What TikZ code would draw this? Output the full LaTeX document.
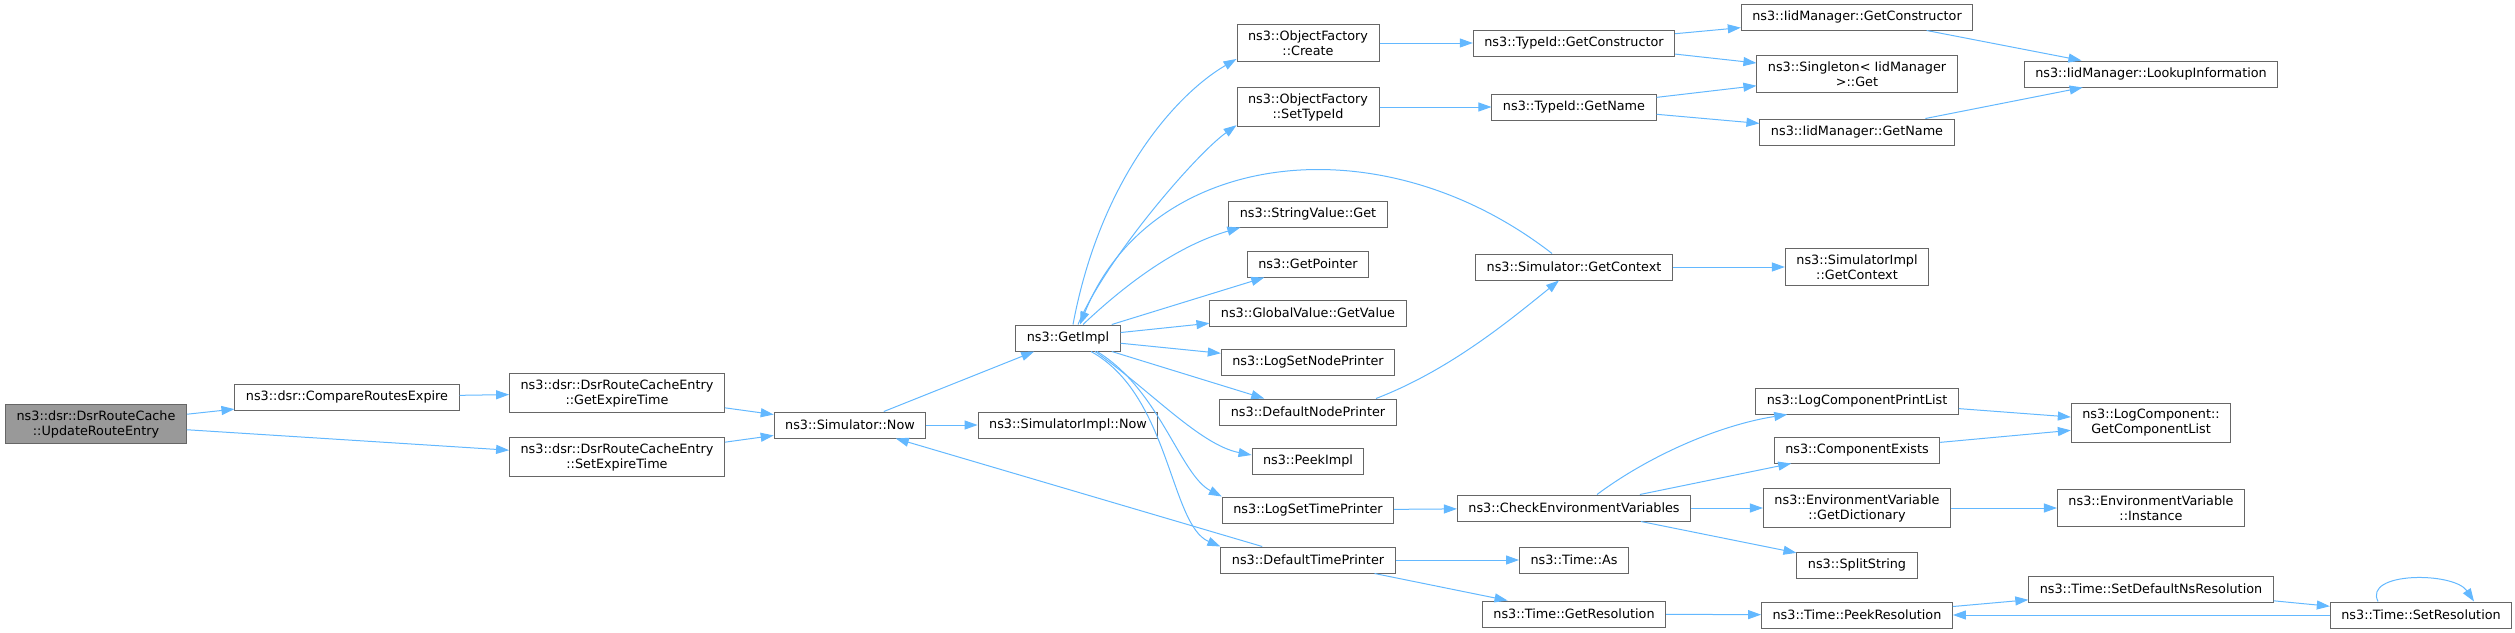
\documentclass[tikz,border=0pt]{standalone}
\usepackage{fontspec}
\setmainfont{DejaVu Sans}
\usetikzlibrary{arrows.meta}
\definecolor{edgeblue}{HTML}{63B8FF}
\definecolor{boxgray}{HTML}{666666}
\definecolor{rootgray}{HTML}{999999}
\tikzset{font=\fontsize{12.8pt}{15pt}\selectfont}

\begin{document}
\begin{tikzpicture}[x=1pt,y=-1pt,
        fn/.style={draw=boxgray,fill=white,line width=1pt,align=center,
            inner xsep=11pt,inner ysep=6pt,minimum height=26pt},
        root/.style={fn,fill=rootgray},
        call/.style={draw=edgeblue,line width=1pt,-{Triangle[length=13pt,width=9pt]}}]
    \useasboundingbox (0,0) rectangle (2515,632);

    \node[root] (upd) at (96,424) {ns3::dsr::DsrRouteCache\\::UpdateRouteEntry};
    \node[fn] (cmp) at (347,397) {ns3::dsr::CompareRoutesExpire};
    \node[fn] (getexp) at (617,393) {ns3::dsr::DsrRouteCacheEntry\\::GetExpireTime};
    \node[fn] (setexp) at (617,457) {ns3::dsr::DsrRouteCacheEntry\\::SetExpireTime};
    \node[fn] (now) at (850,425) {ns3::Simulator::Now};
    \node[fn] (implnow) at (1068,425) {ns3::SimulatorImpl::Now};
    \node[fn] (getimpl) at (1068,338) {ns3::GetImpl};

    \node[fn] (create) at (1308,43) {ns3::ObjectFactory\\::Create};
    \node[fn] (settid) at (1308,107) {ns3::ObjectFactory\\::SetTypeId};
    \node[fn] (strget) at (1308,214) {ns3::StringValue::Get};
    \node[fn] (getptr) at (1308,264) {ns3::GetPointer};
    \node[fn] (gvget) at (1308,313) {ns3::GlobalValue::GetValue};
    \node[fn] (lsnp) at (1308,362) {ns3::LogSetNodePrinter};
    \node[fn] (dnp) at (1308,412) {ns3::DefaultNodePrinter};
    \node[fn] (peek) at (1308,461) {ns3::PeekImpl};
    \node[fn] (lstp) at (1308,510) {ns3::LogSetTimePrinter};
    \node[fn] (dtp) at (1308,560) {ns3::DefaultTimePrinter};

    \node[fn] (tidctor) at (1574,43) {ns3::TypeId::GetConstructor};
    \node[fn] (tidname) at (1574,107) {ns3::TypeId::GetName};
    \node[fn] (ctx) at (1574,267) {ns3::Simulator::GetContext};
    \node[fn] (check) at (1574,508) {ns3::CheckEnvironmentVariables};
    \node[fn] (tas) at (1574,560) {ns3::Time::As};
    \node[fn] (getres) at (1574,614) {ns3::Time::GetResolution};

    \node[fn] (iidctor) at (1857,17) {ns3::IidManager::GetConstructor};
    \node[fn] (single) at (1857,74) {ns3::Singleton< IidManager\\ >::Get};
    \node[fn] (iidname) at (1857,132) {ns3::IidManager::GetName};
    \node[fn] (implctx) at (1857,267) {ns3::SimulatorImpl\\::GetContext};
    \node[fn] (lcpl) at (1857,401) {ns3::LogComponentPrintList};
    \node[fn] (cexists) at (1857,450) {ns3::ComponentExists};
    \node[fn] (dict) at (1857,508) {ns3::EnvironmentVariable\\::GetDictionary};
    \node[fn] (split) at (1857,565) {ns3::SplitString};
    \node[fn] (peekres) at (1857,615) {ns3::Time::PeekResolution};

    \node[fn] (lookup) at (2151,74) {ns3::IidManager::LookupInformation};
    \node[fn] (complist) at (2151,423) {ns3::LogComponent::\\GetComponentList};
    \node[fn] (inst) at (2151,508) {ns3::EnvironmentVariable\\::Instance};
    \node[fn] (setdef) at (2151,589) {ns3::Time::SetDefaultNsResolution};
    \node[fn] (setres) at (2421,615) {ns3::Time::SetResolution};

    \draw[call] (upd) -- (cmp);
    \draw[call] (upd) -- (setexp);
    \draw[call] (cmp) -- (getexp);
    \draw[call] (getexp) -- (now);
    \draw[call] (setexp) -- (now);
    \draw[call] (now) -- (getimpl);
    \draw[call] (now) -- (implnow);
    \draw[call] (dtp) -- (now);

    \draw[call] ([xshift=5pt]getimpl.north) .. controls (1100,180) and (1175,95) .. ([yshift=3pt]create.south west);
    \draw[call] ([xshift=10pt]getimpl.north) .. controls (1105,260) and (1195,155) .. ([yshift=2pt]settid.south west);
    \draw[call] ([xshift=-22pt]ctx.north) .. controls (1380,120) and (1150,150) .. ([xshift=12pt]getimpl.north);
    \draw[call] ([xshift=15pt]getimpl.north) .. controls (1130,280) and (1180,245) .. ([xshift=12pt]strget.south west);
    \draw[call] (getimpl) -- (getptr);
    \draw[call] (getimpl) -- (gvget);
    \draw[call] (getimpl) -- (lsnp);
    \draw[call] (getimpl) -- (dnp);
    \draw[call] ([xshift=27pt]getimpl.south) .. controls (1150,390) and (1200,445) .. ([yshift=6pt]peek.west);
    \draw[call] ([xshift=29pt]getimpl.south) .. controls (1160,390) and (1180,475) .. (lstp.north west);
    \draw[call] ([xshift=23pt]getimpl.south) .. controls (1170,395) and (1170,525) .. (dtp.north west);

    \draw[call] (create) -- (tidctor);
    \draw[call] (settid) -- (tidname);
    \draw[call] (tidctor) -- (iidctor);
    \draw[call] (tidctor) -- (single);
    \draw[call] (tidname) -- (single);
    \draw[call] (tidname) -- (iidname);
    \draw[call] (iidctor) -- (lookup);
    \draw[call] (iidname) -- (lookup);

    \draw[call] ([xshift=68pt]dnp.north) .. controls (1450,370) and (1510,320) .. ([xshift=-15pt]ctx.south);
    \draw[call] (ctx) -- (implctx);

    \draw[call] (lstp) -- (check);
    \draw[call] ([xshift=23pt]check.north) .. controls (1650,455) and (1720,425) .. ([xshift=32pt]lcpl.south west);
    \draw[call] (check) -- (cexists);
    \draw[call] (check) -- (dict);
    \draw[call] (check) -- (split);
    \draw[call] (lcpl) -- (complist);
    \draw[call] (cexists) -- (complist);
    \draw[call] (dict) -- (inst);

    \draw[call] (dtp) -- (tas);
    \draw[call] (dtp) -- (getres);
    \draw[call] (getres) -- (peekres);
    \draw[call] (peekres) -- (setdef);
    \draw[call] (setdef) -- (setres);
    \draw[call] (setres) -- (peekres);
    \draw[call] ([xshift=-43pt]setres.north) .. controls +(-15,-30) and +(-20,-30) .. ([xshift=53pt]setres.north);
\end{tikzpicture}
\end{document}
